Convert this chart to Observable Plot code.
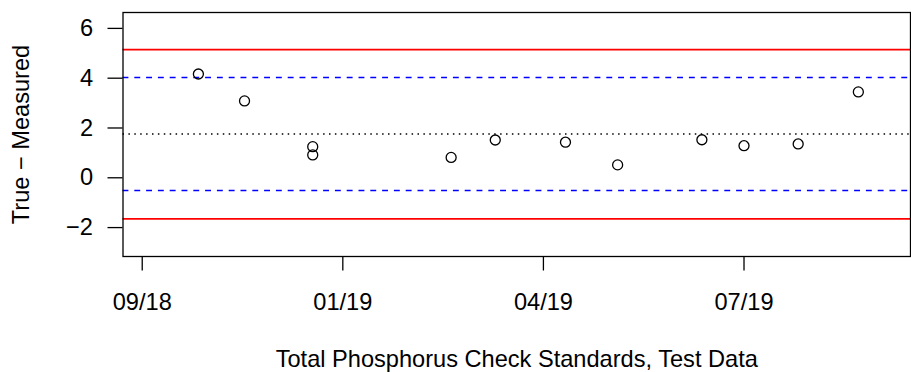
<!DOCTYPE html>
<html>
<head>
<meta charset="utf-8">
<script src="https://cdn.jsdelivr.net/npm/d3@7"></script>
<script src="https://cdn.jsdelivr.net/npm/@observablehq/plot@0.6"></script>
<style>
  html, body { margin: 0; padding: 0; background: #fff; }
  #chart { width: 911px; height: 372px; }
</style>
</head>
<body>
<div id="chart"></div>
<script>
// Sample dates and differences (True − Measured)
const dates = ["2018-10-24","2018-11-16","2018-12-20","2018-12-20","2019-02-27","2019-03-21",
               "2019-04-25","2019-05-21","2019-07-02","2019-07-23","2019-08-19","2019-09-18"];
const values = [4.06, 2.98, 1.14, 0.81, 0.71, 1.41, 1.32, 0.41, 1.42, 1.18, 1.25, 3.34];

// Control limits
const meanLine = [1.65];
const warnLimits = [3.92, -0.62];   // ±2 SD
const ctrlLimits = [5.04, -1.76];   // ±3 SD

// Axis ticks
const yTicks = [-2, 0, 2, 4, 6];
const xTickDates = ["2018-09-26", "2019-01-04", "2019-04-14", "2019-07-23"];
const xDomainDates = ["2018-09-16T10:00:00Z", "2019-10-14T00:00:00Z"];
const yDomain = [-3.27, 6.53];

const xLabel = "Total Phosphorus Check Standards, Test Data";
const yLabel = "True − Measured";

const data = dates.map((d, i) => ({date: new Date(d), value: values[i]}));
const font = "Liberation Sans, Arial, Helvetica, sans-serif";
const fs = 23.6;

const chart = Plot.plot({
  width: 911,
  height: 372,
  marginLeft: 122.5,
  marginRight: 1,
  marginTop: 12,
  marginBottom: 116,
  style: {fontFamily: font, fontSize: fs + "px", background: "white", color: "black"},
  x: {type: "utc", domain: xDomainDates.map(d => new Date(d))},
  y: {domain: yDomain},
  marks: [
    Plot.ruleY(ctrlLimits, {stroke: "#ff0000", strokeWidth: 1.6}),
    Plot.ruleY(warnLimits, {stroke: "#0000ff", strokeWidth: 1.5, strokeDasharray: "5.9,5.9"}),
    Plot.ruleY(meanLine, {stroke: "black", strokeWidth: 1.5, strokeDasharray: "1.5,4.4"}),
    Plot.dot(data, {x: "date", y: "value", r: 5, stroke: "black", fill: "none", strokeWidth: 1.3}),
    Plot.frame({stroke: "black", strokeWidth: 1.3}),
    Plot.axisX({ticks: xTickDates.map(d => new Date(d)), tickFormat: d3.utcFormat("%m/%y"),
      tickSize: 14.5, tickPadding: 22, fontSize: fs, label: null, strokeWidth: 1.3}),
    Plot.axisY({ticks: yTicks, tickFormat: d => d < 0 ? "−" + Math.abs(d) : String(d),
      tickSize: 15, tickPadding: 15, fontSize: fs, dy: 2.7, label: null, strokeWidth: 1.3}),
    Plot.text([yLabel], {frameAnchor: "left", textAnchor: "middle", lineAnchor: "middle",
      rotate: -90, dx: -101.6, fontSize: fs, fill: "black"}),
    Plot.text([xLabel], {frameAnchor: "bottom", textAnchor: "middle", lineAnchor: "middle",
      dy: 103.1, fontSize: fs, fill: "black"})
  ]
});
document.getElementById("chart").appendChild(chart);
</script>
</body>
</html>
